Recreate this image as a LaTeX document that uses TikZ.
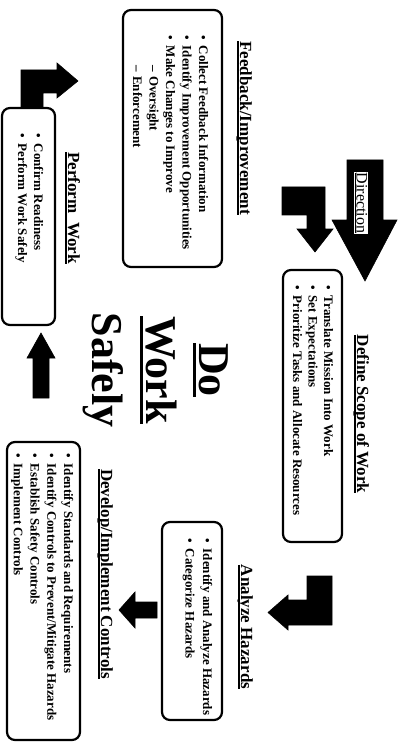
\documentclass[tikz,border=0pt]{standalone}
\usepackage{fontspec}
\setmainfont{Liberation Serif}
\newcommand\myul[3]{\setbox0\hbox{#3}\rlap{\rule[-#1]{\wd0}{#2}}\box0}
\tikzset{
  box/.style={draw, line width=2.2pt, rounded corners=8pt, inner sep=0pt},
  blk/.style={fill=black, draw=black, line width=0.6pt, line join=miter},
  ttl/.style={font=\fontsize{17}{20}\selectfont\bfseries, anchor=base, inner sep=0pt},
  lst/.style={anchor=base west, inner sep=0pt},
  big/.style={font=\fontsize{44}{52}\selectfont\bfseries, anchor=base, inner sep=0pt},
}
\begin{document}
\begin{tikzpicture}[x=1pt,y=1pt]
\fill[white] (0,0) rectangle (400,-743);
\useasboundingbox (0,0) rectangle (400,-743);
\begin{scope}[rotate=-90, transform shape]
% boxes
\node[box, minimum width=257pt, minimum height=99pt] (fbbox) at (138.5,172.5) {};
\node[box, minimum width=272pt, minimum height=59pt] (dsbox) at (406,312.5) {};
\node[box, minimum width=198pt, minimum height=60pt] (ahbox) at (621,192) {};
\node[box, minimum width=298pt, minimum height=73pt] (dibox) at (591,43.5) {};
\node[box, minimum width=217pt, minimum height=53pt] (pwbox) at (216.5,28.5) {};
% titles
\node[ttl] (fbt) at (128,240) {\myul{3pt}{2pt}{Feedback/Improvement}};
\node[ttl] (dst) at (414,357) {\myul{3pt}{2pt}{Define Scope of Work}};
\node[ttl] (aht) at (627,241) {\myul{3pt}{2pt}{Analyze Hazards}};
\node[ttl] (dit) at (574,101) {\myul{3pt}{2pt}{Develop/Implement Controls}};
\node[ttl] (pwt) at (208,68) {\myul{3pt}{2pt}{Perform\ \ Work}};
% lists
\node[lst, font=\fontsize{13}{16.5}\selectfont\bfseries] (fbtxt) at (35,199) {\begin{tabular}[t]{@{}c@{\hspace{6pt}}l@{}}
\textbullet & Collect Feedback Information\\
\textbullet & Identify Improvement Opportunities\\
\textbullet & Make Changes to Improve\\
 & \hspace{20pt}--\hspace{4pt}Oversight\\
 & \hspace{20pt}--\hspace{4pt}Enforcement
\end{tabular}};
\node[lst, font=\fontsize{13}{15.5}\selectfont\bfseries] (dstxt) at (285,324) {\begin{tabular}[t]{@{}c@{\hspace{6pt}}l@{}}
\textbullet & Translate Mission Into Work\\
\textbullet & Set Expectations\\
\textbullet & Prioritize Tasks and Allocate Resources
\end{tabular}};
\node[lst, font=\fontsize{13}{17.5}\selectfont\bfseries] (ahtxt) at (538,203) {\begin{tabular}[t]{@{}c@{\hspace{6pt}}l@{}}
\textbullet & Identify and Analyze Hazards\\
\textbullet & Categorize Hazards
\end{tabular}};
\node[lst, font=\fontsize{13}{16.7}\selectfont\bfseries] (ditxt) at (453,64) {\begin{tabular}[t]{@{}c@{\hspace{6pt}}l@{}}
\textbullet & Identify Standards and Requirements\\
\textbullet & Identify Controls to Prevent/Mitigate Hazards\\
\textbullet & Establish Safety Controls\\
\textbullet & Implement Controls
\end{tabular}};
\node[lst, font=\fontsize{13}{16}\selectfont\bfseries] (pwtxt) at (133,34) {\begin{tabular}[t]{@{}c@{\hspace{6pt}}l@{}}
\textbullet & Confirm Readiness\\
\textbullet & Perform Work Safely
\end{tabular}};
% center text
\node[big] (do) at (370,199) {\myul{6pt}{3pt}{Do}};
\node[big] (work) at (370,146) {\myul{6pt}{3pt}{Work}};
\node[big] (safely) at (370,92) {Safely};
% direction arrow
\fill[blk] (160,347) -- (220,347) -- (220,332) -- (281,365) -- (220,397) -- (220,383) -- (160,383) -- cycle;
\node[font=\fontsize{16}{18}\selectfont, fill=white, inner sep=1pt] (dir) at (203,361) {\myul{2pt}{1pt}{Direction}};
% bent arrows
\fill[blk] (187,282) -- (187,325) -- (229,325) -- (229,333) -- (252,315) -- (229,297) -- (229,307) -- (215,307) -- (215,282) -- cycle;
\fill[blk] (576,307) -- (576,332) -- (625,332) -- (625,288) -- (630,288) -- (612.5,268) -- (595,288) -- (600,288) -- (600,307) -- cycle;
\fill[blk] (107,21) -- (107,43) -- (93,43) -- (93,57) -- (98,57) -- (81,78) -- (63,57) -- (70,57) -- (70,21) -- cycle;
% straight arrows
\fill[blk] (602,157) -- (618,157) -- (618,135) -- (628,135) -- (610,119) -- (592,135) -- (602,135) -- cycle;
\fill[blk] (398,33) -- (398,49) -- (358,49) -- (358,55) -- (333,41) -- (358,27) -- (358,33) -- cycle;
\end{scope}
\end{tikzpicture}
\end{document}
